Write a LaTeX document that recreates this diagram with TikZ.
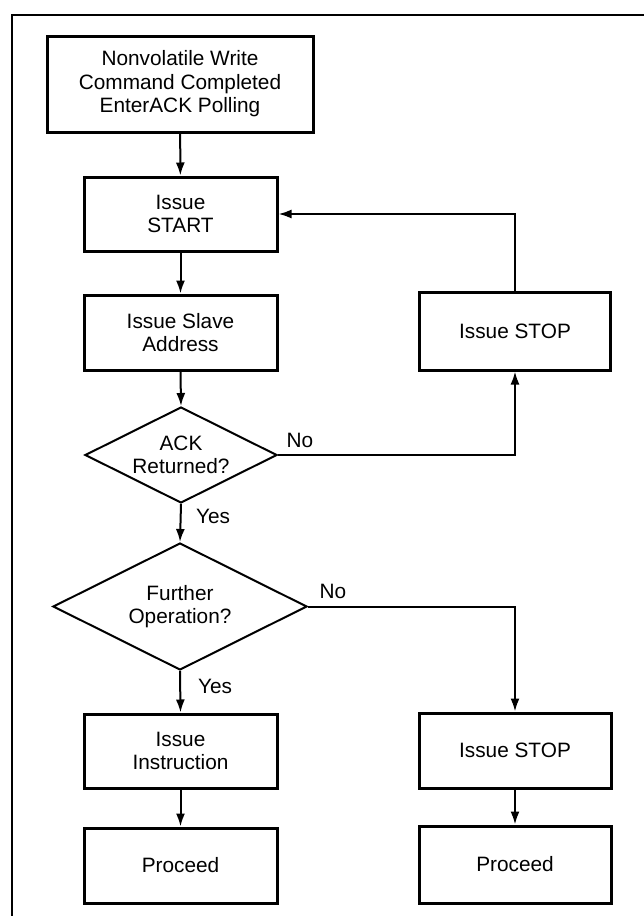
\documentclass[tikz,border=0pt]{standalone}
\usepackage{fontspec}
\setmainfont{Liberation Sans}
\usetikzlibrary{shapes.geometric,arrows.meta}
\begin{document}
\begin{tikzpicture}[x=1pt,y=-1pt,
  every node/.style={font=\fontsize{20.8}{23.5}\selectfont, align=center},
  procbox/.style={draw, line width=3pt, inner sep=0pt},
  decbox/.style={draw, diamond, line width=2pt, inner sep=0pt, aspect=2},
  conn/.style={line width=2pt, -{Latex[length=13pt,width=9pt]}},
  lbl/.style={inner sep=0pt}]
\useasboundingbox (0,0) rectangle (644,916);
\draw[line width=2pt] (12,917) -- (12,15) -- (645,15);

\node[procbox, minimum width=266pt, minimum height=96pt] (top) at (180,84)
  {Nonvolatile Write\\Command Completed\\EnterACK Polling};
\node[procbox, minimum width=193pt, minimum height=74pt] (start) at (180.5,214) {Issue\\START};
\node[procbox, minimum width=193pt, minimum height=75pt] (slave) at (180.5,332.5) {Issue Slave\\Address};
\node[procbox, minimum width=191pt, minimum height=78pt] (stopa) at (515,331) {Issue STOP};
\node[decbox, minimum width=192pt, minimum height=96pt] (ack) at (181,455) {ACK\\Returned?};
\node[decbox, minimum width=254pt, minimum height=127pt] (further) at (180,606.5) {Further\\Operation?};
\node[procbox, minimum width=193pt, minimum height=74pt] (instr) at (180.5,751) {Issue\\Instruction};
\node[procbox, minimum width=193pt, minimum height=75pt] (procl) at (180.5,865.5) {Proceed};
\node[procbox, minimum width=192pt, minimum height=75pt] (stopb) at (515,750.5) {Issue STOP};
\node[procbox, minimum width=192pt, minimum height=77pt] (procr) at (515,864.5) {Proceed};

\draw[conn] (top) -- (start);
\draw[conn] (start) -- (slave);
\draw[conn] (slave.south) -- (ack.north);
\draw[conn] (ack.east) -| (stopa.south);
\draw[conn] (stopa.north) |- (start.east);
\draw[conn] (ack.south) -- (further.north);
\draw[conn] (further.east) -| (stopb.north);
\draw[conn] (further.south) -- (instr.north);
\draw[conn] (instr) -- (procl);
\draw[conn] (stopb) -- (procr);

\node[lbl] (noa) at (300,440) {No};
\node[lbl] (yesa) at (213,516) {Yes};
\node[lbl] (nob) at (333,591) {No};
\node[lbl] (yesb) at (215,686) {Yes};
\end{tikzpicture}
\end{document}
